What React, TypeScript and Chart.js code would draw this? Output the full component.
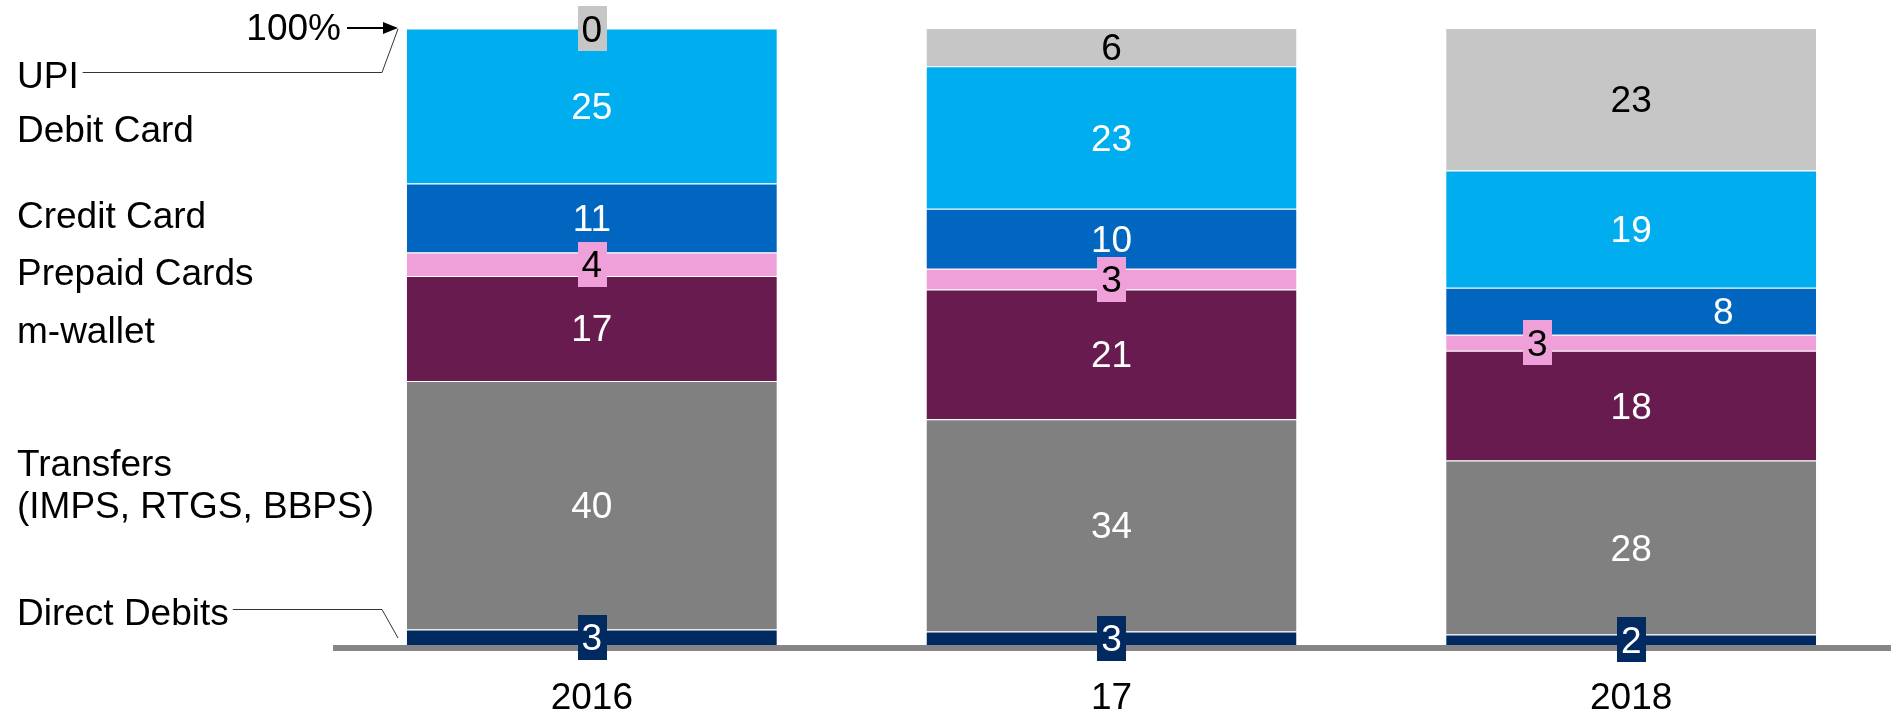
import React, { useEffect, useRef } from "react";
import { Chart, registerables } from "chart.js";

Chart.register(...registerables);

const categories = ["2016", "17", "2018"];

const seriesNames = ["Direct Debits", "Transfers", "m-wallet", "Prepaid Cards", "Credit Card", "Debit Card", "UPI"];

// values (bottom to top)
const directDebits = [2.5, 2.2, 1.7];
const transfers = [40.3, 34.4, 28.2];
const mWallet = [17.0, 21.0, 17.8];
const prepaidCards = [3.8, 3.4, 2.6];
const creditCard = [11.2, 9.7, 7.6];
const debitCard = [25.1, 23.1, 19.0];
const upi = [0, 6.2, 23.1];

// printed segment labels
const directDebitsLbl = ["3", "3", "2"];
const transfersLbl = ["40", "34", "28"];
const mWalletLbl = ["17", "21", "18"];
const prepaidCardsLbl = ["4", "3", "3"];
const creditCardLbl = ["11", "10", "8"];
const debitCardLbl = ["25", "23", "19"];
const upiLbl = ["0", "6", "23"];

const legendLines = ["UPI", "Debit Card", "Credit Card", "Prepaid Cards", "m-wallet", "Transfers", "(IMPS, RTGS, BBPS)", "Direct Debits"];
const topLabel = "100%";

const FONT = "'Liberation Sans', Arial, sans-serif";
const FS = 37;

const colors = ["#002A60", "#808080", "#671B4F", "#F0A0D8", "#0066BF", "#00AEEF", "#C6C6C6"];
const textColors = ["#fff", "#fff", "#fff", "#000", "#fff", "#fff", "#000"];
// horizontal nudges for a couple of labels (dataset index -> per-category offsets)
const labelNudge: Record<number, number[]> = { 3: [0, 0, -94], 4: [0, 0, 92] };
// legend text y positions (cap centres)
const legendY = [75, 129, 215, 272, 330, 463, 505, 612];

export default function App() {
  const ref = useRef<HTMLCanvasElement | null>(null);

  useEffect(() => {
    document.body.style.margin = "0";
    const canvas = ref.current;
    if (!canvas) return;
    const data = [directDebits, transfers, mWallet, prepaidCards, creditCard, debitCard, upi];
    const labels = [directDebitsLbl, transfersLbl, mWalletLbl, prepaidCardsLbl, creditCardLbl, debitCardLbl, upiLbl];

    const overlay = {
      id: "overlay",
      afterDatasetsDraw(chart: any) {
        const ctx = chart.ctx as CanvasRenderingContext2D;
        const area = chart.chartArea;
        ctx.save();
        // axis baseline
        ctx.fillStyle = "#858585";
        ctx.fillRect(area.left + 1, area.bottom, area.right - area.left - 1, 6);

        // segment labels
        ctx.font = `${FS}px ${FONT}`;
        ctx.textAlign = "center";
        ctx.textBaseline = "alphabetic";
        chart.data.datasets.forEach((ds: any, di: number) => {
          const meta = chart.getDatasetMeta(di);
          meta.data.forEach((el: any, i: number) => {
            const txt = labels[di][i];
            const nudge = labelNudge[di] ? labelNudge[di][i] : 0;
            const cx = el.x + nudge;
            const cy = (el.y + el.base) / 2;
            const segH = Math.abs(el.base - el.y);
            if (segH < 30) {
              const w = ctx.measureText(txt).width + 8;
              const h = 45;
              ctx.fillStyle = colors[di];
              ctx.fillRect(Math.round(cx - w / 2), Math.round(cy - h / 2), Math.round(w), h);
            }
            ctx.fillStyle = textColors[di];
            ctx.fillText(txt, cx, cy + 13);
          });
        });

        // left legend text
        ctx.textAlign = "left";
        ctx.fillStyle = "#000";
        legendLines.forEach((t, i) => {
          ctx.fillText(t, 17, legendY[i] + 13);
        });
        const upiEnd = 17 + ctx.measureText(legendLines[0]).width;
        const ddEnd = 17 + ctx.measureText(legendLines[7]).width;

        // 100% label with arrow
        ctx.textAlign = "right";
        ctx.fillText(topLabel, 341, 27 + 13);
        ctx.strokeStyle = "#000";
        ctx.lineWidth = 2;
        ctx.beginPath();
        ctx.moveTo(347, 28);
        ctx.lineTo(386, 28);
        ctx.stroke();
        ctx.beginPath();
        ctx.moveTo(398, 28);
        ctx.lineTo(383, 22);
        ctx.lineTo(383, 34);
        ctx.closePath();
        ctx.fill();

        // leader lines
        ctx.lineWidth = 1;
        ctx.strokeStyle = "#333";
        ctx.beginPath();
        ctx.moveTo(upiEnd + 4, 72.5);
        ctx.lineTo(382, 72.5);
        ctx.lineTo(398, 29);
        ctx.stroke();
        ctx.beginPath();
        ctx.moveTo(ddEnd + 4, 609.5);
        ctx.lineTo(382, 609.5);
        ctx.lineTo(398, 638);
        ctx.stroke();
        ctx.restore();
      },
    };

    const chart = new Chart(canvas, {
      type: "bar",
      data: {
        labels: categories,
        datasets: data.map((d, i) => ({
          label: seriesNames[i],
          data: d,
          backgroundColor: colors[i],
          borderColor: "rgba(255,255,255,0.85)",
          borderWidth: { top: 1, bottom: 0, left: 0, right: 0 },
          borderSkipped: false,
          barPercentage: 0.712,
          categoryPercentage: 1,
        })),
      },
      options: {
        responsive: false,
        animation: false,
        events: [],
        layout: { padding: { left: 332, right: 3, top: 28, bottom: 0 } },
        plugins: { legend: { display: false }, tooltip: { enabled: false } },
        scales: {
          x: {
            stacked: true,
            grid: { display: false, drawTicks: false },
            border: { display: false },
            ticks: { color: "#000", font: { size: FS, family: FONT }, padding: 32 },
            afterFit: (scale: any) => {
              scale.height = 76;
            },
          },
          y: { stacked: true, display: false, min: 0, max: 100 },
        },
      },
      plugins: [overlay],
    });
    return () => chart.destroy();
  }, []);

  return (
    <div style={{ position: "absolute", left: 0, top: 0, width: 1894, height: 721, background: "#fff" }}>
      <canvas ref={ref} width={1894} height={721} />
    </div>
  );
}
